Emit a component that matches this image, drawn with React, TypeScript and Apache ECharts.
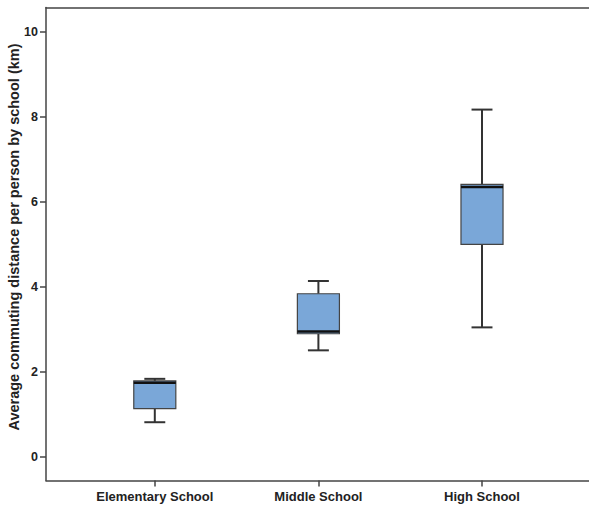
import React, { useEffect, useRef } from "react";
import * as echarts from "echarts";

const categories = ["Elementary School", "Middle School", "High School"];
const whiskerLow = [0.82, 2.51, 3.05];
const q1Values = [1.14, 2.9, 5.0];
const medianValues = [1.75, 2.95, 6.35];
const q3Values = [1.79, 3.84, 6.41];
const whiskerHigh = [1.84, 4.14, 8.17];
const yTicks = [0, 2, 4, 6, 8, 10];
const yTitle = "Average commuting distance per person by school (km)";

export default function App() {
  const ref = useRef<HTMLDivElement>(null);
  useEffect(() => {
    document.body.style.margin = "0";
    if (!ref.current) return;
    const chart = echarts.init(ref.current, null, { renderer: "svg" });
    const data = categories.map((_, i) => [
      i,
      whiskerLow[i],
      q1Values[i],
      medianValues[i],
      q3Values[i],
      whiskerHigh[i],
    ]);
    const font = "'Liberation Sans', Arial, sans-serif";
    const lineColor = "#444";
    chart.setOption({
      animation: false,
      backgroundColor: "#fff",
      grid: { left: 46, right: 0, top: 7.5, bottom: 26.5, containLabel: false },
      xAxis: [
        {
          type: "value",
          min: -0.665,
          max: 2.654,
          position: "bottom",
          splitLine: { show: false },
          axisLine: { show: true, onZero: false, lineStyle: { color: lineColor, width: 1.5 } },
          axisTick: {
            show: true,
            customValues: [0, 1, 2],
            length: 6,
            lineStyle: { color: lineColor, width: 1.5 },
          },
          axisLabel: {
            show: true,
            customValues: [0, 1, 2],
            formatter: (v: number) => categories[Math.round(v)] ?? "",
            margin: 9,
            fontFamily: font,
            fontWeight: "bold",
            fontSize: 13,
            color: "#222",
          },
        },
        {
          type: "value",
          min: -0.665,
          max: 2.654,
          position: "top",
          splitLine: { show: false },
          axisLine: { show: true, onZero: false, lineStyle: { color: lineColor, width: 1.5 } },
          axisTick: { show: false },
          axisLabel: { show: false },
        },
      ],
      yAxis: {
        type: "value",
        min: -0.55,
        max: 10.57,
        splitLine: { show: false },
        axisLine: { show: true, onZero: false, lineStyle: { color: lineColor, width: 1.5 } },
        axisTick: {
          show: true,
          customValues: yTicks,
          length: 6,
          lineStyle: { color: lineColor, width: 1.5 },
        },
        axisLabel: {
          show: true,
          customValues: yTicks,
          margin: 8,
          fontFamily: font,
          fontWeight: "bold",
          fontSize: 12.5,
          color: "#222",
        },
      },
      graphic: [
        {
          type: "text",
          x: 14,
          y: 237,
          rotation: Math.PI / 2,
          style: {
            text: yTitle,
            fontFamily: font,
            fontWeight: "bold",
            fontSize: 14.5,
            fill: "#222",
            align: "center",
            verticalAlign: "middle",
          },
        },
      ],
      series: [
        {
          type: "custom",
          xAxisIndex: 0,
          data,
          renderItem: (params: any, api: any) => {
            const x = api.value(0);
            const pMin = api.coord([x, api.value(1)]);
            const pQ1 = api.coord([x, api.value(2)]);
            const pMed = api.coord([x, api.value(3)]);
            const pQ3 = api.coord([x, api.value(4)]);
            const pMax = api.coord([x, api.value(5)]);
            const band = api.size([1, 0])[0];
            const boxW = band * 0.257;
            const capW = band * 0.128;
            const cx = pMed[0];
            const stroke = { stroke: "#333", lineWidth: 2 };
            return {
              type: "group",
              children: [
                { type: "line", shape: { x1: cx, y1: pMax[1], x2: cx, y2: pQ3[1] }, style: stroke },
                { type: "line", shape: { x1: cx, y1: pQ1[1], x2: cx, y2: pMin[1] }, style: stroke },
                { type: "line", shape: { x1: cx - capW / 2, y1: pMax[1], x2: cx + capW / 2, y2: pMax[1] }, style: stroke },
                { type: "line", shape: { x1: cx - capW / 2, y1: pMin[1], x2: cx + capW / 2, y2: pMin[1] }, style: stroke },
                {
                  type: "rect",
                  shape: { x: cx - boxW / 2, y: pQ3[1], width: boxW, height: pQ1[1] - pQ3[1] },
                  style: { fill: "#7aa7d8", stroke: "#444", lineWidth: 1.2 },
                },
                {
                  type: "line",
                  shape: { x1: cx - boxW / 2, y1: pMed[1], x2: cx + boxW / 2, y2: pMed[1] },
                  style: { stroke: "#111", lineWidth: 2.5 },
                },
              ],
            };
          },
        },
      ],
    });
    return () => chart.dispose();
  }, []);
  return <div ref={ref} style={{ width: 589, height: 507 }} />;
}
